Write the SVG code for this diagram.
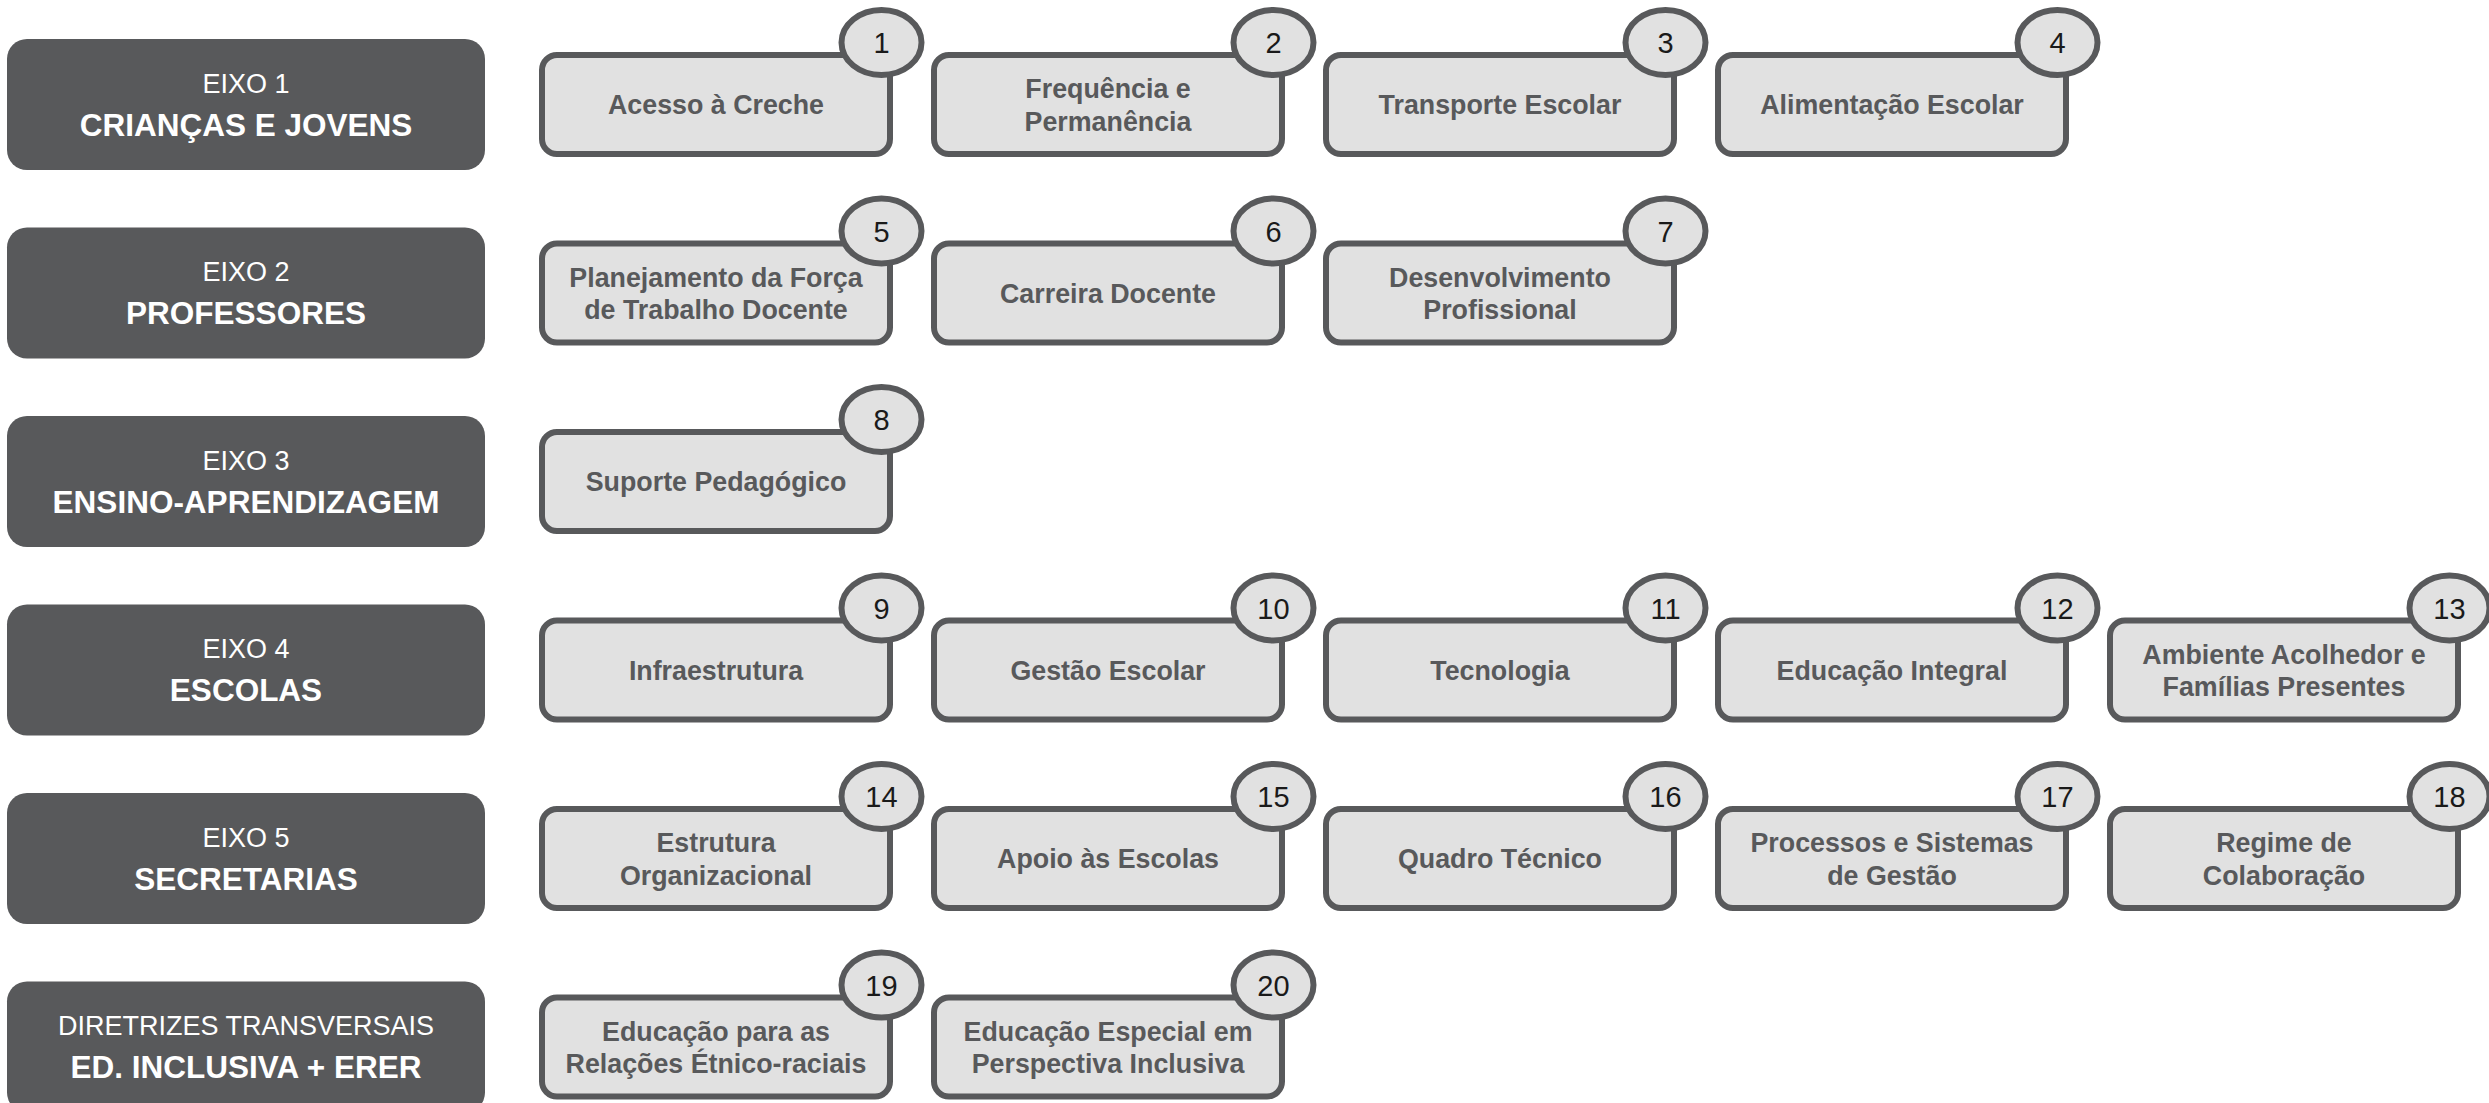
<svg xmlns="http://www.w3.org/2000/svg" width="2489" height="1103" viewBox="0 0 2489 1103">
<style>
.axis{fill:#58595B}
.axt1{font-family:"Liberation Sans",Arial,sans-serif;font-size:27px;fill:#ffffff;text-anchor:middle}
.axt2{font-family:"Liberation Sans",Arial,sans-serif;font-size:31.5px;font-weight:bold;fill:#ffffff;text-anchor:middle}
.box{fill:#E1E1E1;stroke:#58595B;stroke-width:6}
.bt{font-family:"Liberation Sans",Arial,sans-serif;font-size:26.8px;font-weight:bold;fill:#58595B;text-anchor:middle}
.num{font-family:"Liberation Sans",Arial,sans-serif;font-size:29px;fill:#1a1a1a;text-anchor:middle}
</style>
<rect width="2489" height="1103" fill="#ffffff"/>
<g id="connectors"/>

<!-- Axis boxes -->
<g id="eixo1"><rect class="axis" x="7" y="39" width="478" height="131" rx="20"/><text class="axt1" x="246" y="92.5">EIXO 1</text><text class="axt2" x="246" y="135.5">CRIANÇAS E JOVENS</text></g>
<g id="eixo2"><rect class="axis" x="7" y="227.5" width="478" height="131" rx="20"/><text class="axt1" x="246" y="281">EIXO 2</text><text class="axt2" x="246" y="324">PROFESSORES</text></g>
<g id="eixo3"><rect class="axis" x="7" y="416" width="478" height="131" rx="20"/><text class="axt1" x="246" y="469.5">EIXO 3</text><text class="axt2" x="246" y="512.5">ENSINO-APRENDIZAGEM</text></g>
<g id="eixo4"><rect class="axis" x="7" y="604.5" width="478" height="131" rx="20"/><text class="axt1" x="246" y="658">EIXO 4</text><text class="axt2" x="246" y="701">ESCOLAS</text></g>
<g id="eixo5"><rect class="axis" x="7" y="793" width="478" height="131" rx="20"/><text class="axt1" x="246" y="846.5">EIXO 5</text><text class="axt2" x="246" y="889.5">SECRETARIAS</text></g>
<g id="diretrizes"><rect class="axis" x="7" y="981.5" width="478" height="131" rx="20"/><text class="axt1" x="246" y="1035">DIRETRIZES TRANSVERSAIS</text><text class="axt2" x="246" y="1078">ED. INCLUSIVA + ERER</text></g>

<!-- Row 1 -->
<g id="n1"><rect class="box" x="542" y="55" width="348" height="99" rx="15"/><text class="bt" x="716" y="114">Acesso à Creche</text><ellipse class="box" cx="881.5" cy="42.5" rx="40" ry="32.5"/><text class="num" x="881.5" y="53">1</text></g>
<g id="n2"><rect class="box" x="934" y="55" width="348" height="99" rx="15"/><text class="bt" x="1108" y="98">Frequência e</text><text class="bt" x="1108" y="130.5">Permanência</text><ellipse class="box" cx="1273.5" cy="42.5" rx="40" ry="32.5"/><text class="num" x="1273.5" y="53">2</text></g>
<g id="n3"><rect class="box" x="1326" y="55" width="348" height="99" rx="15"/><text class="bt" x="1500" y="114">Transporte Escolar</text><ellipse class="box" cx="1665.5" cy="42.5" rx="40" ry="32.5"/><text class="num" x="1665.5" y="53">3</text></g>
<g id="n4"><rect class="box" x="1718" y="55" width="348" height="99" rx="15"/><text class="bt" x="1892" y="114">Alimentação Escolar</text><ellipse class="box" cx="2057.5" cy="42.5" rx="40" ry="32.5"/><text class="num" x="2057.5" y="53">4</text></g>

<!-- Row 2 -->
<g id="n5"><rect class="box" x="542" y="243.5" width="348" height="99" rx="15"/><text class="bt" x="716" y="286.5">Planejamento da Força</text><text class="bt" x="716" y="319">de Trabalho Docente</text><ellipse class="box" cx="881.5" cy="231" rx="40" ry="32.5"/><text class="num" x="881.5" y="241.5">5</text></g>
<g id="n6"><rect class="box" x="934" y="243.5" width="348" height="99" rx="15"/><text class="bt" x="1108" y="302.5">Carreira Docente</text><ellipse class="box" cx="1273.5" cy="231" rx="40" ry="32.5"/><text class="num" x="1273.5" y="241.5">6</text></g>
<g id="n7"><rect class="box" x="1326" y="243.5" width="348" height="99" rx="15"/><text class="bt" x="1500" y="286.5">Desenvolvimento</text><text class="bt" x="1500" y="319">Profissional</text><ellipse class="box" cx="1665.5" cy="231" rx="40" ry="32.5"/><text class="num" x="1665.5" y="241.5">7</text></g>

<!-- Row 3 -->
<g id="n8"><rect class="box" x="542" y="432" width="348" height="99" rx="15"/><text class="bt" x="716" y="491">Suporte Pedagógico</text><ellipse class="box" cx="881.5" cy="419.5" rx="40" ry="32.5"/><text class="num" x="881.5" y="430">8</text></g>

<!-- Row 4 -->
<g id="n9"><rect class="box" x="542" y="620.5" width="348" height="99" rx="15"/><text class="bt" x="716" y="679.5">Infraestrutura</text><ellipse class="box" cx="881.5" cy="608" rx="40" ry="32.5"/><text class="num" x="881.5" y="618.5">9</text></g>
<g id="n10"><rect class="box" x="934" y="620.5" width="348" height="99" rx="15"/><text class="bt" x="1108" y="679.5">Gestão Escolar</text><ellipse class="box" cx="1273.5" cy="608" rx="40" ry="32.5"/><text class="num" x="1273.5" y="618.5">10</text></g>
<g id="n11"><rect class="box" x="1326" y="620.5" width="348" height="99" rx="15"/><text class="bt" x="1500" y="679.5">Tecnologia</text><ellipse class="box" cx="1665.5" cy="608" rx="40" ry="32.5"/><text class="num" x="1665.5" y="618.5">11</text></g>
<g id="n12"><rect class="box" x="1718" y="620.5" width="348" height="99" rx="15"/><text class="bt" x="1892" y="679.5">Educação Integral</text><ellipse class="box" cx="2057.5" cy="608" rx="40" ry="32.5"/><text class="num" x="2057.5" y="618.5">12</text></g>
<g id="n13"><rect class="box" x="2110" y="620.5" width="348" height="99" rx="15"/><text class="bt" x="2284" y="663.5">Ambiente Acolhedor e</text><text class="bt" x="2284" y="696">Famílias Presentes</text><ellipse class="box" cx="2449.5" cy="608" rx="40" ry="32.5"/><text class="num" x="2449.5" y="618.5">13</text></g>

<!-- Row 5 -->
<g id="n14"><rect class="box" x="542" y="809" width="348" height="99" rx="15"/><text class="bt" x="716" y="852">Estrutura</text><text class="bt" x="716" y="884.5">Organizacional</text><ellipse class="box" cx="881.5" cy="796.5" rx="40" ry="32.5"/><text class="num" x="881.5" y="807">14</text></g>
<g id="n15"><rect class="box" x="934" y="809" width="348" height="99" rx="15"/><text class="bt" x="1108" y="868">Apoio às Escolas</text><ellipse class="box" cx="1273.5" cy="796.5" rx="40" ry="32.5"/><text class="num" x="1273.5" y="807">15</text></g>
<g id="n16"><rect class="box" x="1326" y="809" width="348" height="99" rx="15"/><text class="bt" x="1500" y="868">Quadro Técnico</text><ellipse class="box" cx="1665.5" cy="796.5" rx="40" ry="32.5"/><text class="num" x="1665.5" y="807">16</text></g>
<g id="n17"><rect class="box" x="1718" y="809" width="348" height="99" rx="15"/><text class="bt" x="1892" y="852">Processos e Sistemas</text><text class="bt" x="1892" y="884.5">de Gestão</text><ellipse class="box" cx="2057.5" cy="796.5" rx="40" ry="32.5"/><text class="num" x="2057.5" y="807">17</text></g>
<g id="n18"><rect class="box" x="2110" y="809" width="348" height="99" rx="15"/><text class="bt" x="2284" y="852">Regime de</text><text class="bt" x="2284" y="884.5">Colaboração</text><ellipse class="box" cx="2449.5" cy="796.5" rx="40" ry="32.5"/><text class="num" x="2449.5" y="807">18</text></g>

<!-- Row 6 -->
<g id="n19"><rect class="box" x="542" y="997.5" width="348" height="99" rx="15"/><text class="bt" x="716" y="1040.5">Educação para as</text><text class="bt" x="716" y="1073">Relações Étnico-raciais</text><ellipse class="box" cx="881.5" cy="985" rx="40" ry="32.5"/><text class="num" x="881.5" y="995.5">19</text></g>
<g id="n20"><rect class="box" x="934" y="997.5" width="348" height="99" rx="15"/><text class="bt" x="1108" y="1040.5">Educação Especial em</text><text class="bt" x="1108" y="1073">Perspectiva Inclusiva</text><ellipse class="box" cx="1273.5" cy="985" rx="40" ry="32.5"/><text class="num" x="1273.5" y="995.5">20</text></g>
</svg>
